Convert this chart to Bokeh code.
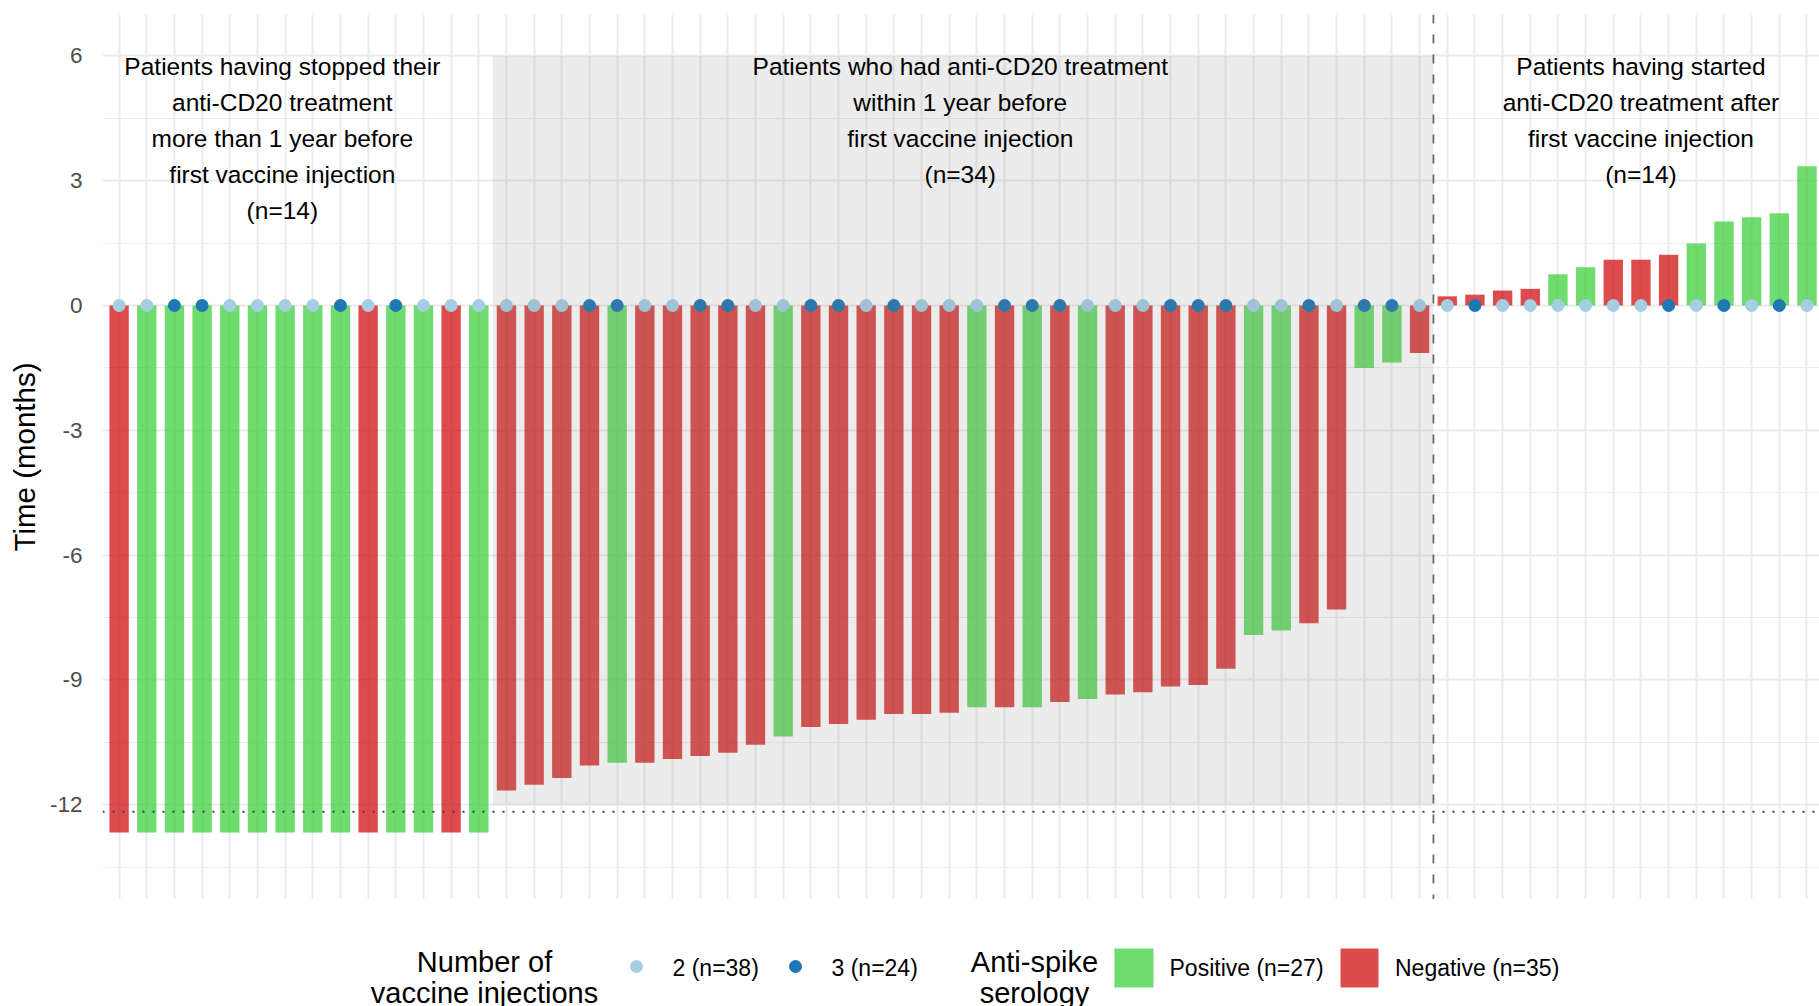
from bokeh.plotting import figure
from bokeh.models import Range1d, FixedTicker, Span, ColumnDataSource
from bokeh.layouts import column
from bokeh.embed import file_html
from bokeh.resources import INLINE
from bokeh.core.properties import value

# ---------------- data ----------------
patient = list(range(1, 63))
months = [
    -12.67, -12.67, -12.67, -12.67, -12.67, -12.67, -12.67,
    -12.67, -12.67, -12.67, -12.67, -12.67, -12.67, -12.67,
    -11.66, -11.52, -11.36, -11.06, -10.99, -10.99, -10.90, -10.83, -10.75, -10.56,
    -10.36, -10.13, -10.06, -9.96, -9.82, -9.82, -9.79, -9.66, -9.66, -9.66,
    -9.53, -9.46, -9.35, -9.30, -9.16, -9.12, -8.73, -7.92, -7.81, -7.64,
    -7.31, -1.50, -1.37, -1.14,
    0.22, 0.26, 0.36, 0.40, 0.75, 0.92, 1.10, 1.10, 1.22, 1.49, 2.02, 2.12, 2.22, 3.35,
]
serology = (
    list("NPPPPPPPPNPPNP")
    + list("NNNNPNNNNNPNNNNNNPNPNPNNNNNPPNNPPN")
    + list("NNNNPPNNNPPPPP")
)
injections = [
    2, 2, 3, 3, 2, 2, 2, 2, 3, 2, 3, 2, 2, 2,
    2, 2, 2, 3, 3, 2, 2, 3, 3, 2, 2, 3, 3, 2, 3, 2, 2, 2, 3, 3, 3, 2, 2, 2,
    3, 3, 3, 2, 2, 3, 2, 3, 3, 2,
    2, 3, 2, 2, 2, 2, 2, 2, 3, 2, 3, 2, 3, 2,
]
group_sizes = [14, 34, 14]
group_text_x = [6.9, 31.4, 56.0]
group_texts = [
    "Patients having stopped their\nanti-CD20 treatment\nmore than 1 year before\nfirst vaccine injection\n(n=14)",
    "Patients who had anti-CD20 treatment\nwithin 1 year before\nfirst vaccine injection\n(n=34)",
    "Patients having started\nanti-CD20 treatment after\nfirst vaccine injection\n(n=14)",
]
one_year = -12.17
shade_bottom, shade_top = -12, 6
y_ticks = [-12, -9, -6, -3, 0, 3, 6]
y_minor = [-13.5, -10.5, -7.5, -4.5, -1.5, 1.5, 4.5]

inj_title = ["Number of", "vaccine injections"]
inj_labels = ["2 (n=38)", "3 (n=24)"]
sero_title = ["Anti-spike", "serology"]
sero_labels = ["Positive (n=27)", "Negative (n=35)"]

# ---------------- styles / geometry ----------------
FONT = "Liberation Sans"
fill_map = {"P": "#32CD32", "N": "#CD0000"}
dot_map = {2: "#A6CEE3", 3: "#1F78B4"}
GRID = "#EBEBEB"

W = 1819
MAIN_H = 899
LEG_H = 107
FRAME_LEFT = 102
FRAME_TOP = 14
PX_PER_X = 27.67
X0 = 0.4
X1 = X0 + (W - FRAME_LEFT) / PX_PER_X
Y_TOP = 6.995
Y_BOT = -14.279
PX_PER_Y = (MAIN_H - FRAME_TOP) / (Y_TOP - Y_BOT)


def wx(px):
    """window x pixel -> data x"""
    return X0 + (px - FRAME_LEFT) / PX_PER_X


def wy(py):
    """window y pixel -> data y (main plot)"""
    return Y_TOP - (py - FRAME_TOP) / PX_PER_Y


xr = Range1d(X0, X1)

p = figure(
    width=W, height=MAIN_H,
    x_range=xr, y_range=Range1d(Y_BOT, Y_TOP),
    output_backend="svg", toolbar_location=None,
    min_border_left=FRAME_LEFT, min_border_right=0,
    min_border_top=FRAME_TOP, min_border_bottom=0,
)
p.outline_line_color = None
p.background_fill_color = "white"
p.xaxis.visible = False

p.xgrid.ticker = FixedTicker(ticks=patient)
p.xgrid.grid_line_color = GRID
p.xgrid.grid_line_width = 2

yt = FixedTicker(ticks=y_ticks, minor_ticks=y_minor)
p.yaxis.ticker = yt
p.ygrid.ticker = yt
p.ygrid.grid_line_color = GRID
p.ygrid.grid_line_width = 2
p.ygrid.minor_grid_line_color = GRID
p.ygrid.minor_grid_line_width = 1

ax = p.yaxis[0]
ax.axis_line_color = None
ax.major_tick_line_color = None
ax.minor_tick_line_color = None
ax.major_label_overrides = {t: str(t) for t in y_ticks}
ax.major_label_standoff = 14
ax.major_label_text_font = FONT
ax.major_label_text_font_size = "22.5px"
ax.major_label_text_color = "#4D4D4D"
ax.axis_label = "Time (months)"
ax.axis_label_text_font = FONT
ax.axis_label_text_font_size = "29.5px"
ax.axis_label_text_font_style = "normal"
ax.axis_label_text_color = "#000000"
ax.axis_label_standoff = 6

src = ColumnDataSource(dict(
    patient=patient,
    months=months,
    zero=[0] * len(patient),
    fill=[fill_map[s] for s in serology],
    dot=[dot_map[n] for n in injections],
))

p.vbar(x="patient", top="months", bottom=0, width=0.7, source=src,
       fill_color="fill", fill_alpha=0.7, line_color=None)
p.scatter(x="patient", y="zero", size=13, source=src,
          fill_color="dot", line_color=None)

# translucent grey overlay over the middle group
left_edge = group_sizes[0] + 0.5
right_edge = group_sizes[0] + group_sizes[1] + 0.5
p.quad(left=[left_edge], right=[right_edge], bottom=[shade_bottom], top=[shade_top],
       fill_color="#808080", fill_alpha=0.15, line_color=None)

p.add_layout(Span(location=right_edge, dimension="height", line_color="#6B6B6B",
                  line_width=1.8, line_dash="9 11"))
p.add_layout(Span(location=one_year, dimension="width", line_color="#404040",
                  line_width=2, line_dash="2 8"))

# group annotation texts (one row per line); anchor = visual centre of line
first_center_px = 66.0
line_step_px = 35.9
tx, ty, tt = [], [], []
for gx, txt in zip(group_text_x, group_texts):
    for k, line in enumerate(txt.split("\n")):
        tx.append(gx)
        ty.append(wy(first_center_px + k * line_step_px))
        tt.append(line)
p.text(x=tx, y=ty, text=tt, text_font=value(FONT), text_font_size="24.5px",
       text_align="center", text_baseline="alphabetic", text_color="#000000")

# ---------------- legend strip ----------------
lf = figure(
    width=W, height=LEG_H,
    x_range=xr, y_range=Range1d(LEG_H, 0),
    output_backend="svg", toolbar_location=None,
    min_border_left=FRAME_LEFT, min_border_right=0, min_border_top=0, min_border_bottom=0,
)
lf.outline_line_color = None
lf.xaxis.visible = False
lf.yaxis.visible = False
lf.grid.visible = False

TITLE_FS = "29px"
LABEL_FS = "23px"

for cx, lines in ((484, inj_title), (1034, sero_title)):
    lf.text(x=[wx(cx), wx(cx)], y=[62, 93.5], text=lines, text_font=value(FONT),
            text_font_size=TITLE_FS, text_align="center",
            text_baseline="alphabetic", text_color="#000000")

lf.scatter(x=[wx(636), wx(795)], y=[67, 67], size=13,
           fill_color=[dot_map[2], dot_map[3]], line_color=None)
lf.text(x=[wx(672), wx(831)], y=[68.5, 68.5], text=inj_labels, text_font=value(FONT),
        text_font_size=LABEL_FS, text_align="left",
        text_baseline="alphabetic", text_color="#000000")

lf.quad(left=[wx(1114), wx(1340)], right=[wx(1153), wx(1378)], top=[49, 49], bottom=[88, 88],
        fill_color=[fill_map["P"], fill_map["N"]], fill_alpha=0.7, line_color=None)
lf.text(x=[wx(1169), wx(1394.5)], y=[68.5, 68.5], text=sero_labels, text_font=value(FONT),
        text_font_size=LABEL_FS, text_align="left",
        text_baseline="alphabetic", text_color="#000000")

layout = column(p, lf, spacing=0)
open("out.html", "w").write(file_html(layout, INLINE))
